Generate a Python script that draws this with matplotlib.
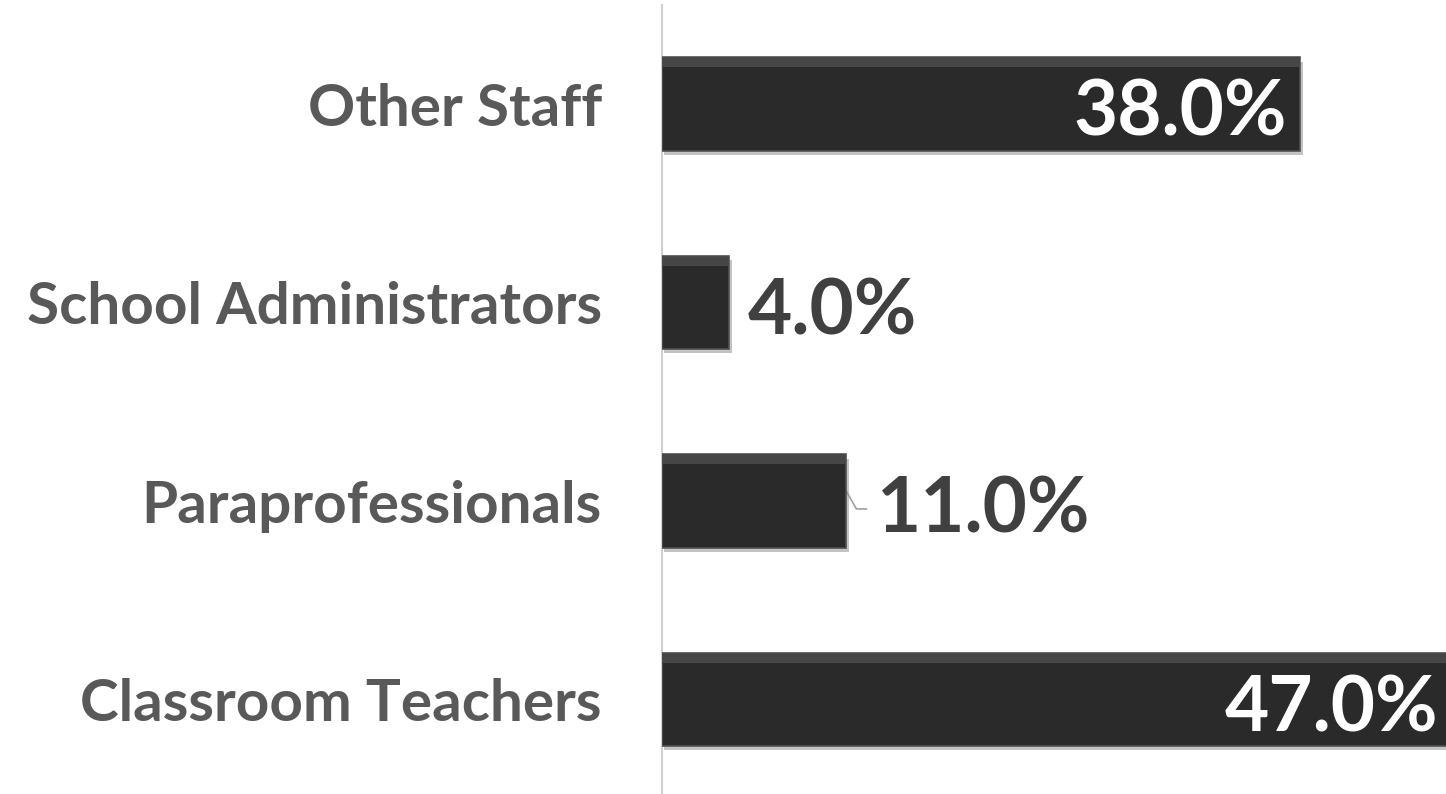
import matplotlib
matplotlib.use("Agg")
import matplotlib.pyplot as plt
import matplotlib.patheffects as pe

categories = ["Classroom Teachers", "Paraprofessionals", "School Administrators", "Other Staff"]
values = [47.0, 11.0, 4.0, 38.0]
labels = ["47.0%", "11.0%", "4.0%", "38.0%"]
inside = [True, False, False, True]

plt.rcParams['font.family'] = ['Lato', 'DejaVu Sans']

fig = plt.figure(figsize=(14.46, 7.94), dpi=100)
ax = fig.add_axes([0.4575, -0.006, 0.5425, 1.0])

bar_h = 0.47
ax.barh(range(len(values)), values, height=bar_h, color="#2a2a2a",
        edgecolor="#505050", linewidth=1.2, zorder=3,
        path_effects=[pe.SimplePatchShadow(offset=(2, -3), shadow_rgbFace="#888888", alpha=0.5), pe.Normal()])
# subtle top highlight strip (bevel look)
ax.barh([i + bar_h / 2 - 0.025 for i in range(len(values))], values, height=0.05,
        color="#4a4a4a", linewidth=0, zorder=4, alpha=0.9)

ax.set_xlim(0, 46.7)
ax.set_ylim(-0.5, 3.5)

for i, (v, lab, ins) in enumerate(zip(values, labels, inside)):
    if ins:
        ax.text(v - 0.75, i - 0.05, lab, ha="right", va="center", color="white",
                fontsize=55, fontweight="bold", zorder=5)
    else:
        off = 1.1 if v < 5 else 1.8
        ax.text(v + off, i - 0.05, lab, ha="left", va="center", color="#404040",
                fontsize=55, fontweight="bold", zorder=5)

# leader line for Paraprofessionals
ax.plot([values[1], values[1] + 0.6, values[1] + 1.2], [1.05, 0.96, 0.96],
        color="#a0a0a0", linewidth=1.2, zorder=2)

ax.set_yticks(range(len(categories)))
ax.set_yticklabels(categories, fontsize=42, fontweight="bold", color="#595959")
ax.tick_params(axis="y", length=0, pad=43)
ax.set_xticks([])
for s in ["top", "right", "bottom"]:
    ax.spines[s].set_visible(False)
ax.spines["left"].set_color("#d0d0d0")
ax.spines["left"].set_linewidth(1.5)

fig.savefig("out.png", dpi=100, facecolor="white")
